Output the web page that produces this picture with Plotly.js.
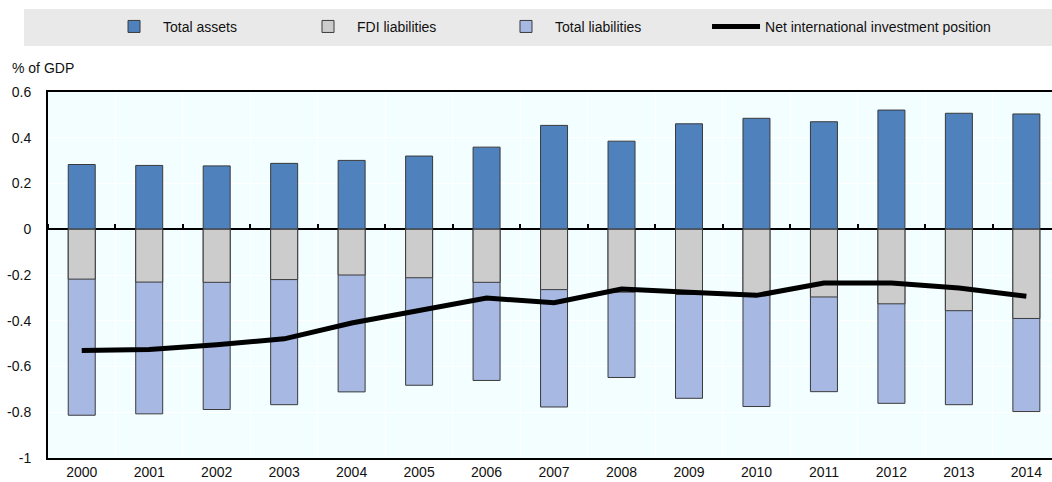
<!DOCTYPE html>
<html>
<head>
<meta charset="utf-8">
<script src="https://cdn.plot.ly/plotly-3.0.1.min.js"></script>
<style>
  html, body { margin: 0; padding: 0; background: #ffffff; }
  #chart { width: 1052px; height: 482px; }
</style>
</head>
<body>
<div id="chart"></div>
<script>
const years = ["2000","2001","2002","2003","2004","2005","2006","2007","2008","2009","2010","2011","2012","2013","2014"];
const totalAssets = [0.283,0.279,0.277,0.288,0.301,0.320,0.359,0.454,0.385,0.461,0.485,0.470,0.521,0.507,0.504];
const fdiLiabilities = [-0.218,-0.231,-0.232,-0.220,-0.200,-0.212,-0.232,-0.264,-0.275,-0.285,-0.290,-0.296,-0.326,-0.356,-0.390];
const totalLiabilities = [-0.813,-0.807,-0.788,-0.767,-0.711,-0.682,-0.661,-0.777,-0.648,-0.739,-0.775,-0.710,-0.761,-0.767,-0.797];
const netPosition = [-0.530,-0.526,-0.505,-0.479,-0.410,-0.355,-0.301,-0.321,-0.261,-0.275,-0.289,-0.235,-0.235,-0.257,-0.293];
const yTicks = [-1,-0.8,-0.6,-0.4,-0.2,0,0.2,0.4,0.6];
const yTickText = ["-1","-0.8","-0.6","-0.4","-0.2","0","0.2","0.4","0.6"];

const font = "Liberation Sans, Arial, sans-serif";
const barLine = {color: "#3a3a3a", width: 1};

const traces = [
  {type: "bar", name: "Total assets", x: years, y: totalAssets,
   marker: {color: "#4F81BD", line: barLine}, legend: "legend", hoverinfo: "x+y"},
  {type: "bar", name: "Total liabilities", x: years, y: totalLiabilities,
   marker: {color: "#A7B9E3", line: barLine}, legend: "legend3", hoverinfo: "x+y"},
  {type: "bar", name: "FDI liabilities", x: years, y: fdiLiabilities,
   marker: {color: "#CCCCCC", line: barLine}, legend: "legend2", hoverinfo: "x+y"},
  {type: "scatter", mode: "lines", name: "Net international investment position", x: years, y: netPosition,
   line: {color: "#000000", width: 5}, legend: "legend4", hoverinfo: "x+y"},
  // invisible helper so the zero-line tick axis has categories
  {type: "scatter", mode: "lines", x: years, y: netPosition, xaxis: "x2", yaxis: "y",
   line: {width: 0, color: "rgba(0,0,0,0)"}, showlegend: false, hoverinfo: "skip"}
];

function legendAt(x) {
  return {
    orientation: "h", x: x, xanchor: "left", y: 1.178, yanchor: "middle",
    bgcolor: "rgba(0,0,0,0)", font: {family: font, size: 14, color: "#111111"},
    itemwidth: 48
  };
}

const layout = {
  width: 1052, height: 482,
  margin: {l: 48, r: 0, t: 92, b: 24},
  paper_bgcolor: "#ffffff",
  plot_bgcolor: "#F2FEFF",
  font: {family: font, size: 14, color: "#111111"},
  barmode: "overlay",
  bargap: 0.6,
  showlegend: true,
  legend: legendAt(0.0568),
  legend2: legendAt(0.2500),
  legend3: legendAt(0.4472),
  legend4: legendAt(0.6564),
  xaxis: {
    type: "category", range: [-0.5, 14.38],
    showline: true, linecolor: "#000000", linewidth: 2, mirror: true,
    ticks: "", tickson: "boundaries", showgrid: true, gridcolor: "#ffffff", gridwidth: 1,
    tickfont: {family: font, size: 14, color: "#111111"}, fixedrange: true
  },
  xaxis2: {
    type: "category", overlaying: "x", anchor: "free", position: 0.625, side: "top",
    range: [-0.5, 14.38], tickson: "boundaries",
    ticks: "outside", ticklen: 5, tickwidth: 1.5, tickcolor: "#000000",
    showticklabels: false, showline: false, showgrid: false, zeroline: false, fixedrange: true
  },
  yaxis: {
    range: [-1, 0.6], tickvals: yTicks, ticktext: yTickText,
    showline: true, linecolor: "#000000", linewidth: 2,
    showgrid: true, gridcolor: "#ffffff", gridwidth: 1,
    zeroline: true, zerolinecolor: "#000000", zerolinewidth: 2,
    ticks: "", ticklabelstandoff: 12,
    tickfont: {family: font, size: 14, color: "#111111"}, fixedrange: true
  },
  shapes: [
    {type: "rect", xref: "paper", yref: "paper", x0: -0.0239, x1: 1.0, y0: 1.1257, y1: 1.2268,
     fillcolor: "#E9E9E9", line: {width: 0}, layer: "below"}
  ],
  annotations: [
    {text: "% of GDP", xref: "paper", yref: "paper", x: -0.038, y: 1.0656,
     xanchor: "left", yanchor: "middle", showarrow: false,
     font: {family: font, size: 14, color: "#111111"}}
  ]
};

Plotly.newPlot("chart", traces, layout, {displayModeBar: false, responsive: false});
</script>
</body>
</html>
